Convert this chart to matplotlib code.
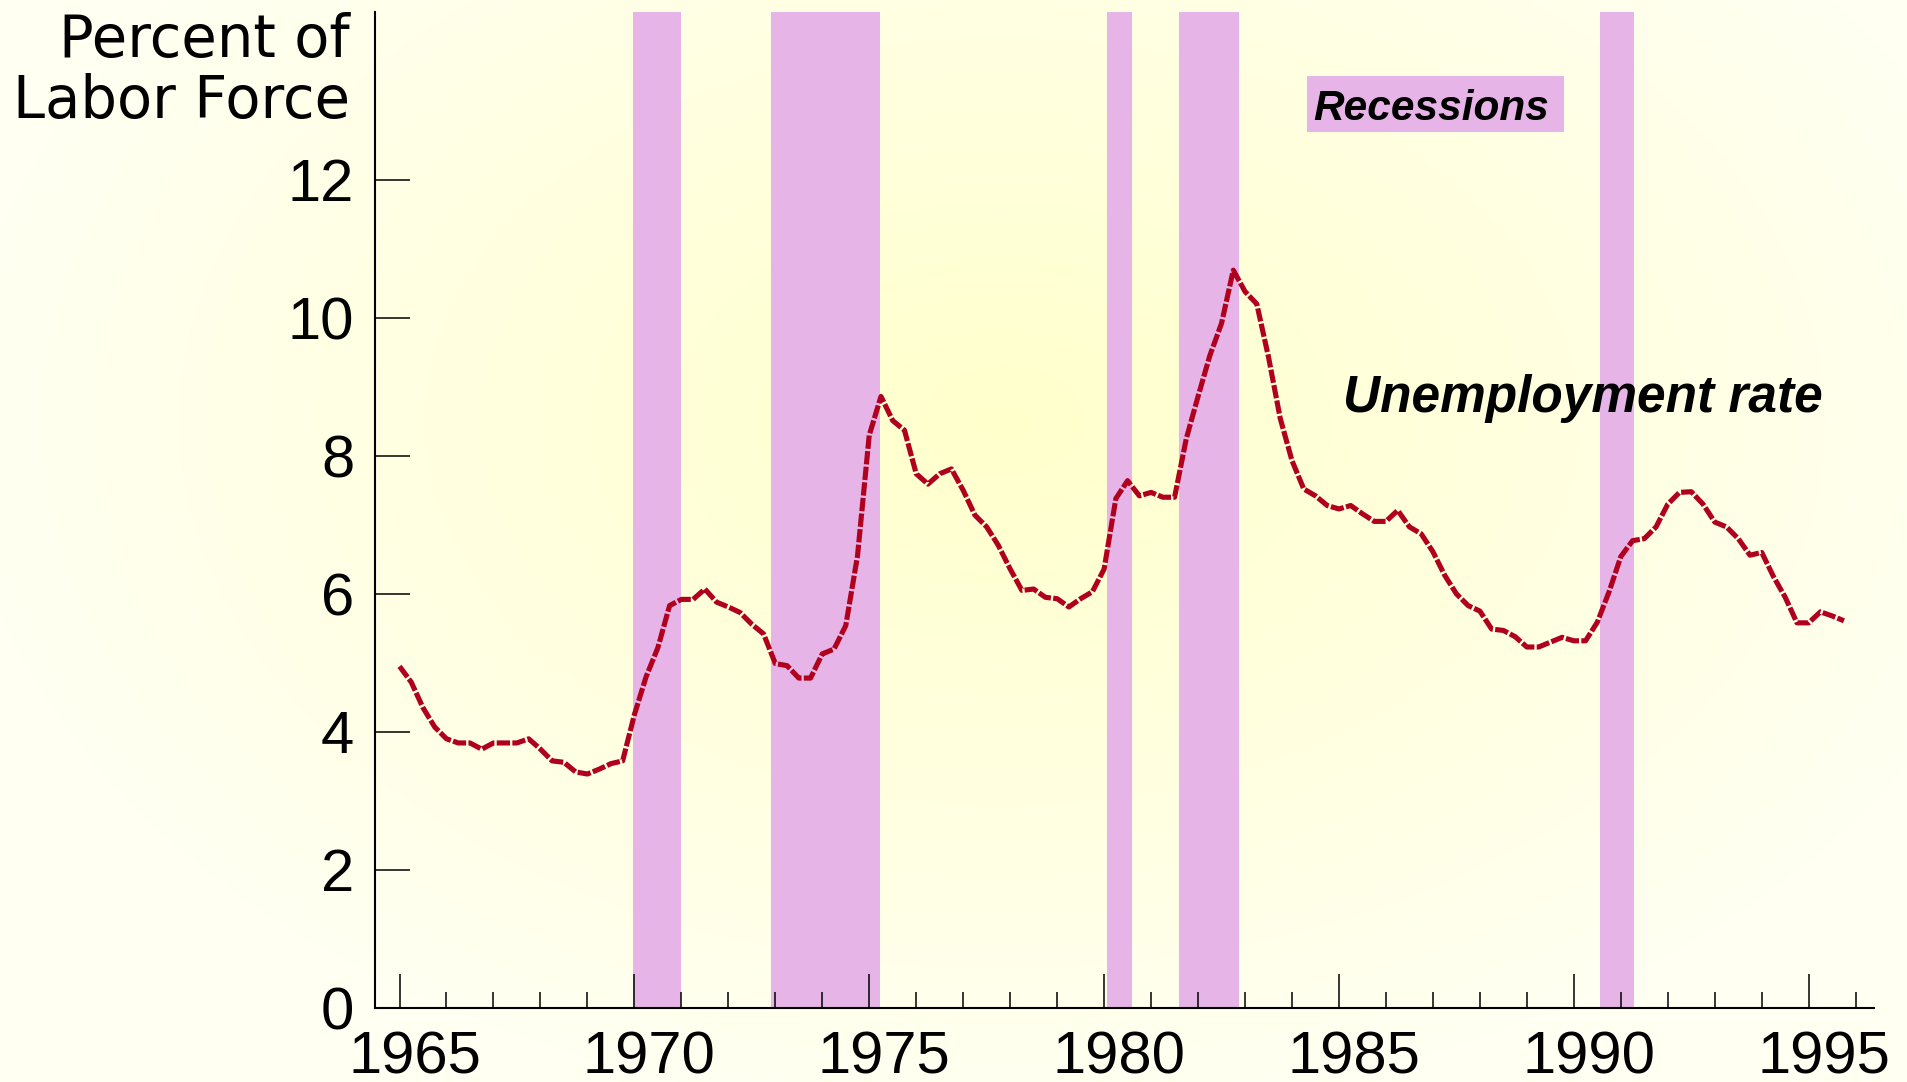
import numpy as np
import matplotlib
matplotlib.use("Agg")
import matplotlib.pyplot as plt
import matplotlib.transforms as mtransforms
from matplotlib.patches import Rectangle
from matplotlib.ticker import MultipleLocator

plt.rcParams['font.family'] = ['Liberation Sans', 'DejaVu Sans']

# quarterly unemployment rate, 1965Q1 .. 1995Q4
rate = [
    4.95, 4.72, 4.35, 4.07,   # 1965
    3.90, 3.84, 3.84, 3.75,   # 1966
    3.84, 3.84, 3.84, 3.90,   # 1967
    3.75, 3.58, 3.56, 3.42,   # 1968
    3.39, 3.46, 3.54, 3.58,   # 1969
    4.25, 4.80, 5.22, 5.83,   # 1970
    5.92, 5.92, 6.07, 5.88,   # 1971
    5.81, 5.73, 5.56, 5.42,   # 1972
    4.99, 4.96, 4.78, 4.78,   # 1973
    5.13, 5.20, 5.54, 6.55,   # 1974
    8.30, 8.86, 8.51, 8.37,   # 1975
    7.74, 7.59, 7.74, 7.81,   # 1976
    7.50, 7.14, 6.97, 6.70,   # 1977
    6.36, 6.05, 6.07, 5.95,   # 1978
    5.93, 5.81, 5.93, 6.03,   # 1979
    6.36, 7.38, 7.64, 7.42,   # 1980
    7.47, 7.40, 7.40, 8.25,   # 1981
    8.86, 9.45, 9.92, 10.69,  # 1982
    10.38, 10.20, 9.43, 8.54, # 1983
    7.93, 7.52, 7.42, 7.28,   # 1984
    7.23, 7.28, 7.16, 7.05,   # 1985
    7.05, 7.21, 6.97, 6.87,   # 1986
    6.61, 6.27, 6.00, 5.83,   # 1987
    5.75, 5.49, 5.47, 5.38,   # 1988
    5.23, 5.23, 5.30, 5.37,   # 1989
    5.32, 5.32, 5.59, 6.03,   # 1990
    6.54, 6.77, 6.80, 6.97,   # 1991
    7.30, 7.47, 7.48, 7.30,   # 1992
    7.04, 6.97, 6.80, 6.56,   # 1993
    6.60, 6.25, 5.95, 5.58,   # 1994
    5.58, 5.74, 5.68, 5.61,   # 1995
]
t = 1965 + np.arange(len(rate)) * 0.25

rec_start = [1969.98, 1972.90, 1980.06, 1981.60, 1990.55]
rec_end = [1971.00, 1975.22, 1980.59, 1982.88, 1991.29]

major_years = list(range(1965, 1996, 5))
yticks = list(range(0, 13, 2))

line_col = '#B0001E'
band_col = '#E6B4E6'

W, H = 1908, 1082
fig = plt.figure(figsize=(W / 100, H / 100), dpi=100)

# soft yellow radial background
bg = fig.add_axes([0, 0, 1, 1], zorder=-10)
yy, xx = np.mgrid[0:H:4, 0:W:4]
r = np.sqrt(((xx - 1000) / 1050.0) ** 2 + ((yy - 420) / 700.0) ** 2)
r = np.clip(r, 0, 1)
c0 = np.array([1.0, 1.0, 0.80])
c1 = np.array([1.0, 1.0, 0.95])
img = c0 + (c1 - c0) * r[..., None]
bg.imshow(img, extent=(0, W, H, 0), aspect='auto', interpolation='bilinear')
bg.set_xlim(0, W)
bg.set_ylim(H, 0)
bg.axis('off')

ax = fig.add_axes([375 / W, 1 - 1008 / H, (1874 - 375) / W, (1008 - 12) / H])
ax.patch.set_alpha(0)

for s, e in zip(rec_start, rec_end):
    ax.axvspan(s, e, color=band_col, lw=0, zorder=1)

ax.plot(t, rate, color=line_col, lw=3.7, linestyle=(0, (2.6, 0.45)),
        dash_capstyle='butt', zorder=3)

ax.set_xlim(1964.478, 1996.39)
ax.set_ylim(0, 14.43)

for side in ['top', 'right']:
    ax.spines[side].set_visible(False)
for side in ['bottom', 'left']:
    ax.spines[side].set_linewidth(1.5)
    ax.spines[side].set_zorder(4)

ax.set_xticks(major_years)
ax.xaxis.set_minor_locator(MultipleLocator(1))
ax.set_yticks(yticks)
ax.tick_params(axis='x', which='major', direction='in', length=24.5, width=1.1,
               pad=16, labelsize=43)
ax.tick_params(axis='x', which='minor', direction='in', length=11.5, width=1.1)
ax.tick_params(axis='y', direction='in', length=25, width=1.1, pad=15, labelsize=43)

# year labels sit a little right of their ticks in the original
shift = mtransforms.ScaledTranslation(15 / 100, 0, fig.dpi_scale_trans)
for lab in ax.get_xticklabels():
    lab.set_transform(lab.get_transform() + shift)

fig.text(350 / W, 1 - 12 / H, "Percent of\nLabor Force", ha='right', va='top',
         fontsize=41.5, family='DejaVu Sans', linespacing=1.08, multialignment='right')

fig.add_artist(Rectangle((1307 / W, 1 - 132 / H), 257 / W, 56 / H,
                         transform=fig.transFigure, color=band_col, lw=0))
fig.text(1313 / W, 1 - 120 / H, 'Recessions', fontsize=30.5, weight='bold',
         style='italic', va='baseline', ha='left')
fig.text(1343 / W, 1 - 412 / H, 'Unemployment rate', fontsize=37, weight='bold',
         style='italic', va='baseline', ha='left')

fig.savefig('out.png', dpi=100)
